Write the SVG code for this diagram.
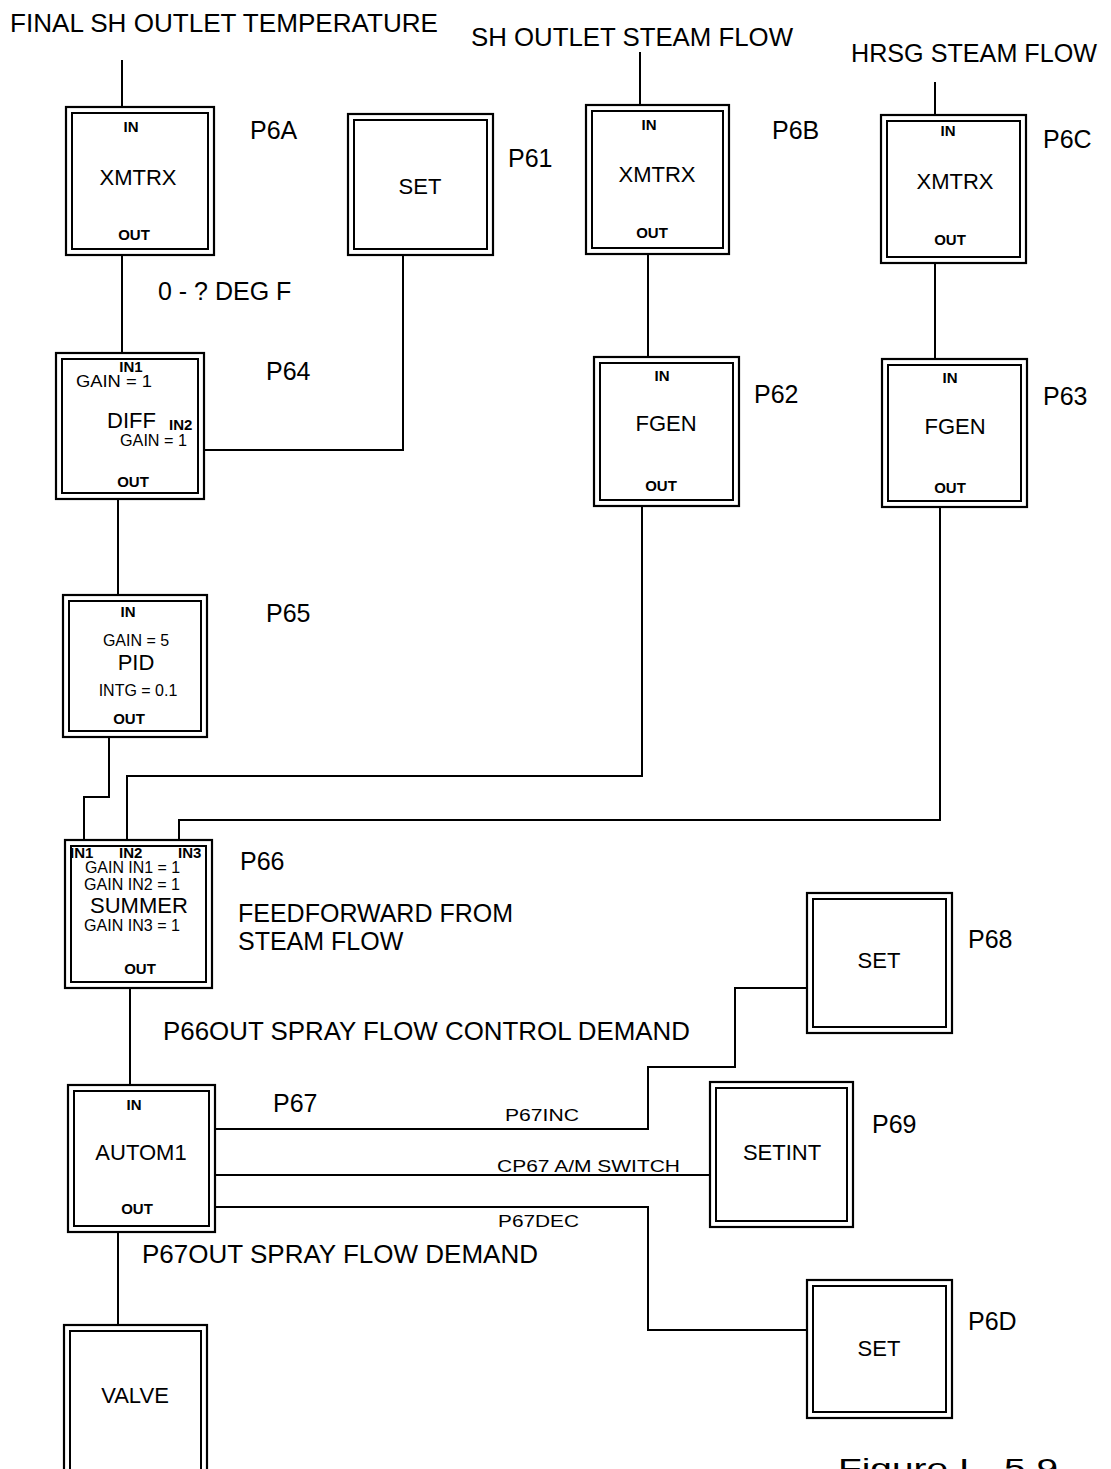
<svg xmlns="http://www.w3.org/2000/svg" width="1111" height="1469" viewBox="0 0 1111 1469">
<style>
.ob{fill:none;stroke:#000;stroke-width:2.2}
.ib{fill:none;stroke:#000;stroke-width:2}
.ln{fill:none;stroke:#000;stroke-width:2}
text{font-family:"Liberation Sans",Arial,sans-serif;fill:#000}
.big{font-size:25px}
.nm{font-size:22px}
.pl{font-size:15px;font-weight:bold}
.sm{font-size:16px}
.wl{font-size:17px}
.mid{text-anchor:middle}
</style>
<rect width="1111" height="1469" fill="#fff"/>

<!-- top labels -->
<text class="big" x="10" y="32" textLength="428" lengthAdjust="spacingAndGlyphs">FINAL SH OUTLET TEMPERATURE</text>
<text class="big" x="471" y="46" textLength="322" lengthAdjust="spacingAndGlyphs">SH OUTLET STEAM FLOW</text>
<text class="big" x="851" y="62" textLength="246" lengthAdjust="spacingAndGlyphs">HRSG STEAM FLOW</text>

<g id="connectors">
  <path class="ln" d="M122 60 V107"/>
  <path class="ln" d="M640 52 V105"/>
  <path class="ln" d="M935 82 V115"/>
  <path class="ln" d="M122 255 V353"/>
  <path class="ln" d="M403 255 V450 H204"/>
  <path class="ln" d="M648 254 V357"/>
  <path class="ln" d="M935 263 V359"/>
  <path class="ln" d="M118 499 V595"/>
  <path class="ln" d="M109 737 V797 H84 V840"/>
  <path class="ln" d="M642 506 V776 H127 V840"/>
  <path class="ln" d="M940 507 V820 H179 V840"/>
  <path class="ln" d="M130 988 V1085"/>
  <path class="ln" d="M215 1129 H648 V1067 H735 V988 H807"/>
  <path class="ln" d="M215 1175 H710"/>
  <path class="ln" d="M215 1207 H648 V1330 H807"/>
  <path class="ln" d="M118 1232 V1325"/>
</g>

<g id="P6A">
  <rect class="ob" x="66" y="107" width="148" height="148"/>
  <rect class="ib" x="72" y="113" width="136" height="136"/>
  <text class="pl mid" x="131" y="132">IN</text>
  <text class="nm mid" x="138" y="185">XMTRX</text>
  <text class="pl mid" x="134" y="240">OUT</text>
  <text class="big" x="250" y="139">P6A</text>
</g>

<g id="P61">
  <rect class="ob" x="348" y="114" width="145" height="141"/>
  <rect class="ib" x="354" y="120" width="133" height="129"/>
  <text class="nm mid" x="420" y="194">SET</text>
  <text class="big" x="508" y="167">P61</text>
</g>

<g id="P6B">
  <rect class="ob" x="586" y="105" width="143" height="149"/>
  <rect class="ib" x="592" y="111" width="131" height="137"/>
  <text class="pl mid" x="649" y="130">IN</text>
  <text class="nm mid" x="657" y="182">XMTRX</text>
  <text class="pl mid" x="652" y="238">OUT</text>
  <text class="big" x="772" y="139">P6B</text>
</g>

<g id="P6C">
  <rect class="ob" x="881" y="115" width="145" height="148"/>
  <rect class="ib" x="887" y="121" width="133" height="136"/>
  <text class="pl mid" x="948" y="136">IN</text>
  <text class="nm mid" x="955" y="189">XMTRX</text>
  <text class="pl mid" x="950" y="245">OUT</text>
  <text class="big" x="1043" y="148">P6C</text>
</g>

<text class="big" x="158" y="300">0 - ? DEG F</text>

<g id="P64">
  <rect class="ob" x="56" y="353" width="148" height="146"/>
  <rect class="ib" x="62" y="359" width="136" height="134"/>
  <text class="pl mid" x="131" y="372">IN1</text>
  <text class="sm" x="76" y="387" textLength="76" lengthAdjust="spacingAndGlyphs">GAIN = 1</text>
  <text class="nm" x="107" y="428">DIFF</text>
  <text class="pl" x="169" y="430">IN2</text>
  <text class="sm" x="120" y="446" textLength="67" lengthAdjust="spacingAndGlyphs">GAIN = 1</text>
  <text class="pl mid" x="133" y="487">OUT</text>
  <text class="big" x="266" y="380">P64</text>
</g>

<g id="P62">
  <rect class="ob" x="594" y="357" width="145" height="149"/>
  <rect class="ib" x="600" y="363" width="133" height="137"/>
  <text class="pl mid" x="662" y="381">IN</text>
  <text class="nm mid" x="666" y="431">FGEN</text>
  <text class="pl mid" x="661" y="491">OUT</text>
  <text class="big" x="754" y="403">P62</text>
</g>

<g id="P63">
  <rect class="ob" x="882" y="359" width="145" height="148"/>
  <rect class="ib" x="888" y="365" width="133" height="136"/>
  <text class="pl mid" x="950" y="383">IN</text>
  <text class="nm mid" x="955" y="434">FGEN</text>
  <text class="pl mid" x="950" y="493">OUT</text>
  <text class="big" x="1043" y="405">P63</text>
</g>

<g id="P65">
  <rect class="ob" x="63" y="595" width="144" height="142"/>
  <rect class="ib" x="69" y="601" width="132" height="130"/>
  <text class="pl mid" x="128" y="617">IN</text>
  <text class="sm mid" x="136" y="646">GAIN = 5</text>
  <text class="nm mid" x="136" y="670">PID</text>
  <text class="sm mid" x="138" y="696">INTG = 0.1</text>
  <text class="pl mid" x="129" y="724">OUT</text>
  <text class="big" x="266" y="622">P65</text>
</g>

<g id="P66">
  <rect class="ob" x="65" y="840" width="147" height="148"/>
  <rect class="ib" x="71" y="846" width="135" height="136"/>
  <text class="pl" x="70" y="858" font-size="13">IN1</text>
  <text class="pl" x="119" y="858" font-size="13">IN2</text>
  <text class="pl" x="178" y="858" font-size="13">IN3</text>
  <text class="sm" x="85" y="873" textLength="95" lengthAdjust="spacingAndGlyphs">GAIN IN1 = 1</text>
  <text class="sm" x="84" y="890" textLength="96" lengthAdjust="spacingAndGlyphs">GAIN IN2 = 1</text>
  <text class="nm" x="90" y="913">SUMMER</text>
  <text class="sm" x="84" y="931" textLength="96" lengthAdjust="spacingAndGlyphs">GAIN IN3 = 1</text>
  <text class="pl mid" x="140" y="974">OUT</text>
  <text class="big" x="240" y="870">P66</text>
  <text class="big" x="238" y="922">FEEDFORWARD FROM</text>
  <text class="big" x="238" y="950">STEAM FLOW</text>
</g>

<text class="big" x="163" y="1040" textLength="527" lengthAdjust="spacingAndGlyphs">P66OUT SPRAY FLOW CONTROL DEMAND</text>

<g id="P68">
  <rect class="ob" x="807" y="893" width="145" height="140"/>
  <rect class="ib" x="813" y="899" width="133" height="128"/>
  <text class="nm mid" x="879" y="968">SET</text>
  <text class="big" x="968" y="948">P68</text>
</g>

<g id="P67">
  <rect class="ob" x="68" y="1085" width="147" height="147"/>
  <rect class="ib" x="74" y="1091" width="135" height="135"/>
  <text class="pl mid" x="134" y="1110">IN</text>
  <text class="nm mid" x="141" y="1160">AUTOM1</text>
  <text class="pl mid" x="137" y="1214">OUT</text>
  <text class="big" x="273" y="1112">P67</text>
</g>

<text class="wl" x="505" y="1121" textLength="74" lengthAdjust="spacingAndGlyphs">P67INC</text>
<text class="wl" x="497" y="1172" textLength="183" lengthAdjust="spacingAndGlyphs">CP67 A/M SWITCH</text>
<text class="wl" x="498" y="1227" textLength="81" lengthAdjust="spacingAndGlyphs">P67DEC</text>

<g id="P69">
  <rect class="ob" x="710" y="1082" width="143" height="145"/>
  <rect class="ib" x="716" y="1088" width="131" height="133"/>
  <text class="nm mid" x="782" y="1160">SETINT</text>
  <text class="big" x="872" y="1133">P69</text>
</g>

<text class="big" x="142" y="1263" textLength="396" lengthAdjust="spacingAndGlyphs">P67OUT SPRAY FLOW DEMAND</text>

<g id="P6D">
  <rect class="ob" x="807" y="1280" width="145" height="138"/>
  <rect class="ib" x="813" y="1286" width="133" height="126"/>
  <text class="nm mid" x="879" y="1356">SET</text>
  <text class="big" x="968" y="1330">P6D</text>
</g>

<g id="VALVE">
  <rect class="ob" x="64" y="1325" width="143" height="150"/>
  <rect class="ib" x="70" y="1331" width="131" height="150"/>
  <text class="nm mid" x="135" y="1403">VALVE</text>
</g>

<text x="838" y="1478" font-family="DejaVu Sans,sans-serif" font-size="28" font-weight="300" textLength="220" lengthAdjust="spacingAndGlyphs">Figure I - 5.9</text>
</svg>
